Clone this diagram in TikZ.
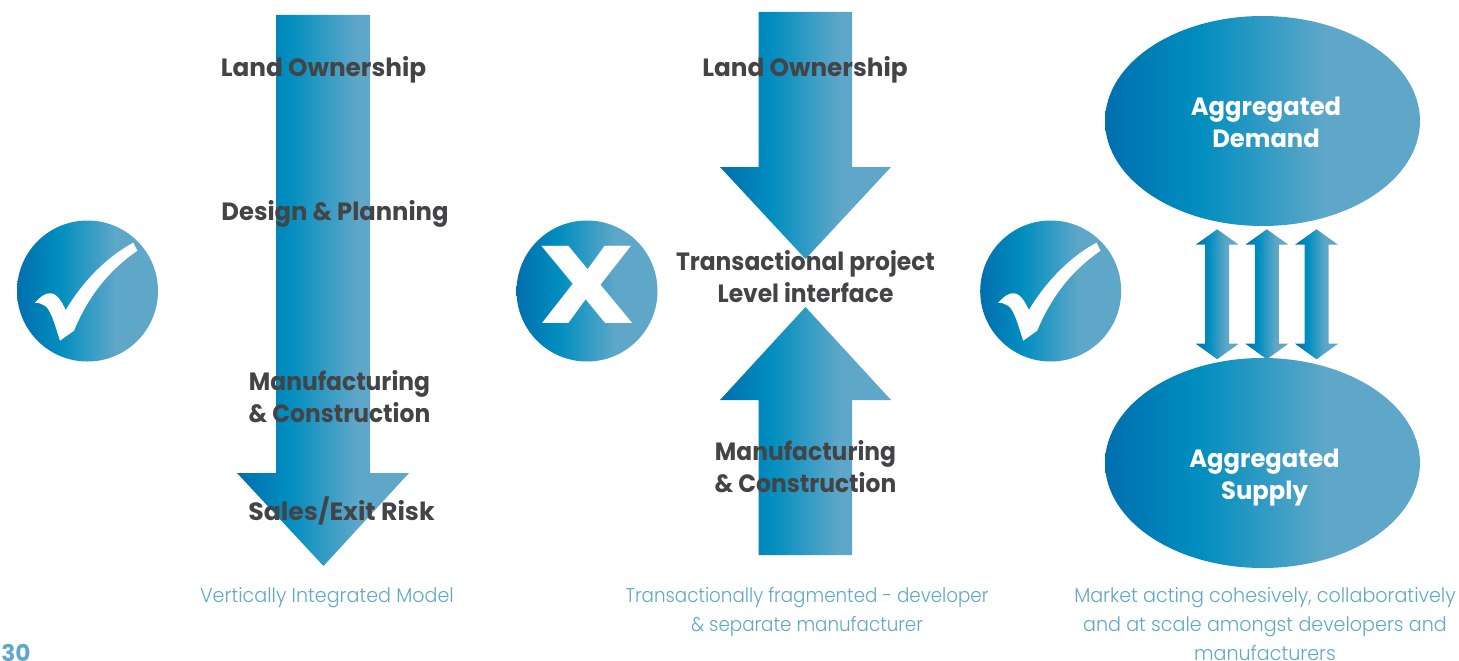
\documentclass[tikz,border=0pt]{standalone}
\usepackage{fontspec}
\setmainfont{Poppins}
\newfontfamily\headf[FakeStretch=0.935]{Poppins Bold}
\newfontfamily\aggf[FakeStretch=0.97]{Poppins Bold}
\newfontfamily\landf[FakeStretch=0.99]{Poppins Bold}
\newfontfamily\salesf[FakeStretch=1.01]{Poppins Bold}
\newfontfamily\captf[FakeStretch=0.955]{Poppins Light}
\newfontfamily\captnarrowf[FakeStretch=0.915]{Poppins Light}
\newfontfamily\xf[FakeStretch=1.24]{Poppins Bold}
\definecolor{darkt}{HTML}{444446}
\definecolor{capt}{HTML}{5FA8C9}
\definecolor{gA}{HTML}{006FAE}
\definecolor{gB}{HTML}{008EBF}
\definecolor{gC}{HTML}{5FA7C8}
\pgfdeclarehorizontalshading{bluegrad}{100bp}{color(0bp)=(gA); color(25bp)=(gA); color(40bp)=(gB); color(60bp)=(gC); color(100bp)=(gC)}
\tikzset{
  blueshape/.style={shading=bluegrad, draw=none},
  lab/.style={font=\headf\fontsize{25}{32}\selectfont, text=darkt, align=center, inner sep=0pt},
  widelab/.style={lab, font=\landf\fontsize{25}{32}\selectfont},
  whitelab/.style={lab, font=\aggf\fontsize{25}{32}\selectfont, text=white},
  caption/.style={font=\captf\fontsize{20}{29}\selectfont, text=capt, align=center, inner sep=0pt},
}
\newcommand{\checkshape}[2]{%
  \fill[white,shift={(#1,#2)}] (133.3,242.7) -- (137.3,250.7)
    .. controls (108,271) and (88,297) .. (74,330.7)
    -- (60,340.7)
    .. controls (54,322) and (50,307) .. (43.3,305)
    .. controls (41,303) and (38,303) .. (35,302.7)
    .. controls (41,296) and (46,293) .. (50,293.3)
    .. controls (57,293) and (62,302) .. (65.7,310)
    .. controls (82,283) and (105,258) .. (133.3,242.7) -- cycle;}
\newcommand{\dblarrow}[1]{%
  \shade[blueshape] (#1+21.5,229.3) -- (#1+43,244.7) -- (#1+33.5,244.7) -- (#1+33.5,343.7) -- (#1+43,343.7) -- (#1+21.5,359.3) -- (#1,343.7) -- (#1+9.5,343.7) -- (#1+9.5,244.7) -- (#1,244.7) -- cycle;}
\begin{document}
\begin{tikzpicture}[x=1pt,y=-1pt]
\useasboundingbox (0,0) rectangle (1459,661);
% arrows
\shade[blueshape] (276,15) -- (370,15) -- (370,473) -- (409,473) -- (323.5,566) -- (237,473) -- (276,473) -- cycle;
\shade[blueshape] (758.5,12) -- (852,12) -- (852,167) -- (891,167) -- (805.5,259) -- (720,167) -- (758.5,167) -- cycle;
\shade[blueshape] (758.5,555) -- (852,555) -- (852,400) -- (891,400) -- (805.5,307) -- (720,400) -- (758.5,400) -- cycle;
% circles
\shade[blueshape] (87.5,291) circle [radius=70.5];
\shade[blueshape] (587,291) circle [radius=70.5];
\shade[blueshape] (1050.7,291) circle [radius=70.5];
\checkshape{0}{0}
\checkshape{963.2}{0}
% ellipses
\shade[blueshape] (1262.5,121) ellipse [x radius=157.5, y radius=105];
\shade[blueshape] (1262.5,463) ellipse [x radius=157.5, y radius=105];
\dblarrow{1195.7}
\dblarrow{1245.3}
\dblarrow{1295}
% labels
\node[widelab] (a1) at (323.5,70) {Land Ownership};
\node[lab,font=\aggf\fontsize{25}{32}\selectfont] (a2) at (335,214) {Design \& Planning};
\node[lab] (a3) at (339.5,397) {Manufacturing\\\& Construction};
\node[lab,font=\salesf\fontsize{25}{32}\selectfont] (a4) at (341.5,511) {Sales/Exit Risk};
\node[widelab] (b1) at (805,70) {Land Ownership};
\node[lab] (b2) at (805.5,277) {Transactional project\\Level interface};
\node[lab] (b3) at (805.5,467) {Manufacturing\\\& Construction};
\node[whitelab] (c1) at (1266,122) {Aggregated\\Demand};
\node[whitelab] (c2) at (1264.5,478) {Aggregated\\Supply};
\node[font=\xf\fontsize{110}{110}\selectfont, text=white, inner sep=0pt] (x) at (587,285) {X};
\node[caption] (d1) at (327,598) {Vertically Integrated Model};
\node[caption,font=\captnarrowf\fontsize{20}{29}\selectfont] (d2) at (807,612.5) {Transactionally fragmented - developer\\\& separate manufacturer};
\node[caption] (d3) at (1265,624) {Market acting cohesively, collaboratively\\and at scale amongst developers and\\manufacturers};
\node[font=\salesf\fontsize{23}{23}\selectfont, text=capt, inner sep=0pt] (pg) at (16,653) {30};
\end{tikzpicture}
\end{document}
